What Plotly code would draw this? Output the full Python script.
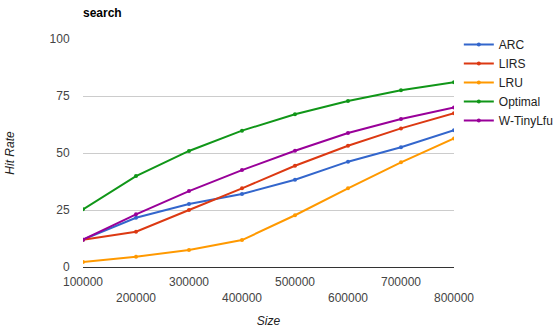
import plotly.graph_objects as go

sizes = [100000, 200000, 300000, 400000, 500000, 600000, 700000, 800000]

arc = [12.0, 21.6, 27.6, 32.0, 38.3, 46.2, 52.5, 60.0]
lirs = [12.0, 15.5, 25.0, 34.5, 44.4, 53.2, 60.8, 67.4]
lru = [2.2, 4.5, 7.5, 11.8, 22.7, 34.5, 45.9, 56.4]
optimal = [25.3, 39.9, 50.9, 59.8, 67.0, 72.8, 77.5, 81.0]
w_tinylfu = [12.0, 23.1, 33.3, 42.5, 51.0, 58.8, 64.9, 70.0]

series = [
    ("ARC", arc, "#3366cc"),
    ("LIRS", lirs, "#dc3912"),
    ("LRU", lru, "#ff9900"),
    ("Optimal", optimal, "#109618"),
    ("W-TinyLfu", w_tinylfu, "#990099"),
]

y_ticks = [0, 25, 50, 75, 100]
# alternate x labels drop to a second row
x_ticktext = [f"{v}" if i % 2 == 0 else f"<br>{v}" for i, v in enumerate(sizes)]

font = "Liberation Sans, Arial, sans-serif"

fig = go.Figure()
for name, vals, color in series:
    fig.add_trace(go.Scatter(
        x=sizes, y=vals, name=name, mode="lines+markers",
        line=dict(color=color, width=2),
        marker=dict(color=color, size=4),
    ))

fig.update_layout(
    width=556, height=331,
    margin=dict(l=83, r=102, t=39, b=64, autoexpand=False),
    paper_bgcolor="white", plot_bgcolor="white",
    font=dict(family=font, size=12, color="#444444"),
    title=dict(text="<b>search</b>", x=83 / 556, xanchor="left",
               y=1 - 13 / 331, yanchor="middle",
               font=dict(family=font, size=12, color="#000000")),
    showlegend=True,
    legend=dict(x=1.013, xanchor="left", y=1.04, yanchor="top",
                itemwidth=30,
                font=dict(family=font, size=12, color="#222222"),
                bgcolor="rgba(0,0,0,0)", tracegroupgap=0),
    xaxis=dict(
        range=[100000, 800000], tickvals=sizes, ticktext=x_ticktext,
        showgrid=False, zeroline=False, showline=False, automargin=False,
        ticks="outside", ticklen=4, tickcolor="rgba(0,0,0,0)",
        tickfont=dict(size=12, color="#444444"),
        title=dict(text="<i>Size</i>", standoff=12,
                   font=dict(size=12, color="#222222")),
    ),
    yaxis=dict(
        range=[0, 100], tickvals=y_ticks, automargin=False,
        showgrid=True, gridcolor="#cccccc", gridwidth=1,
        zeroline=True, zerolinecolor="#333333", zerolinewidth=1,
        showline=False,
        ticks="outside", ticklen=10, tickcolor="rgba(0,0,0,0)",
        tickfont=dict(size=12, color="#444444"),
        title=dict(text="<i>Hit Rate</i>", standoff=32,
                   font=dict(size=12, color="#222222")),
    ),
)

fig.write_html("out.html")
